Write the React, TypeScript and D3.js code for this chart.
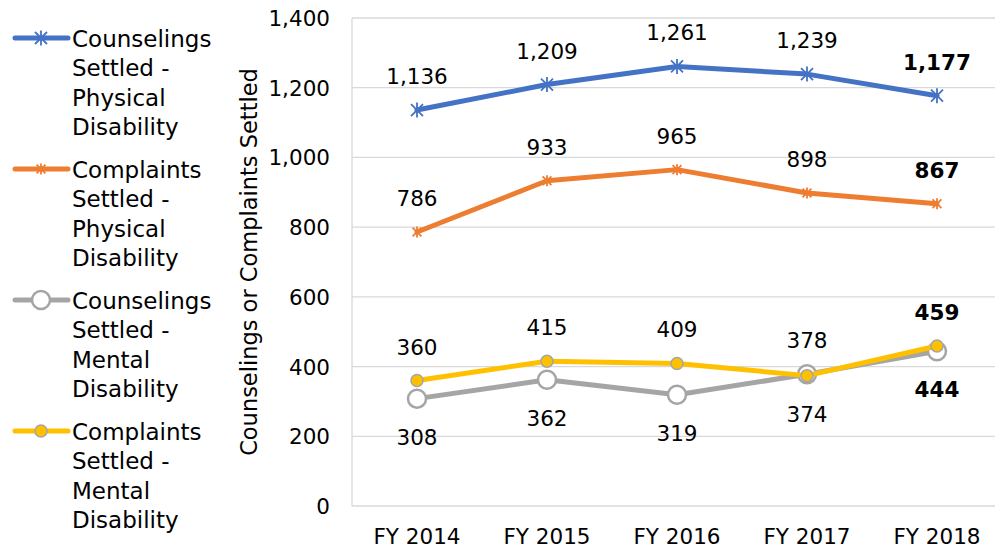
import * as d3 from 'd3';

const years = ['FY 2014', 'FY 2015', 'FY 2016', 'FY 2017', 'FY 2018'];
const counselPhysical = [1136, 1209, 1261, 1239, 1177];
const complaintPhysical = [786, 933, 965, 898, 867];
const counselMental = [308, 362, 319, 378, 444];
const complaintMental = [360, 415, 409, 374, 459];
const yTicks = [0, 200, 400, 600, 800, 1000, 1200, 1400];

const FONT = 'DejaVu Sans, sans-serif';

type Marker = 'star' | 'starSmall' | 'ring' | 'dot';

const series: { name: string[]; values: number[]; color: string; marker: Marker }[] = [
  { name: ['Counselings', 'Settled -', 'Physical', 'Disability'], values: counselPhysical, color: '#4472C4', marker: 'star' },
  { name: ['Complaints', 'Settled -', 'Physical', 'Disability'], values: complaintPhysical, color: '#ED7D31', marker: 'starSmall' },
  { name: ['Counselings', 'Settled -', 'Mental', 'Disability'], values: counselMental, color: '#A5A5A5', marker: 'ring' },
  { name: ['Complaints', 'Settled -', 'Mental', 'Disability'], values: complaintMental, color: '#FFC000', marker: 'dot' },
];

function MarkerShape({ type, x, y, color }: { type: Marker; x: number; y: number; color: string }) {
  if (type === 'star' || type === 'starSmall') {
    const r = type === 'star' ? 7.5 : 5.5;
    const d = `M0,${-r}V${r}M${-r * 0.8},${-r * 0.8}L${r * 0.8},${r * 0.8}M${-r * 0.8},${r * 0.8}L${r * 0.8},${-r * 0.8}`;
    return <path d={d} transform={`translate(${x},${y})`} stroke={color} strokeWidth={1.8} fill="none" />;
  }
  if (type === 'ring') {
    return <circle cx={x} cy={y} r={9} fill="#fff" stroke={color} strokeWidth={2.5} />;
  }
  return <circle cx={x} cy={y} r={6} fill={color} stroke="#A5A5A5" strokeWidth={1.5} />;
}

export default function App() {
  const width = 995;
  const height = 550;
  const x = d3.scaleBand().domain(years).range([352, 1002]);
  const y = d3.scaleLinear().domain([0, 1400]).range([506, 18]);
  const cx = (d: string) => (x(d) ?? 0) + x.bandwidth() / 2;
  const line = d3.line<number>().x((_, i) => cx(years[i])).y(v => y(v));

  // label above or below the marker
  const above = (si: number, i: number) => {
    if (si === 2) return counselMental[i] > complaintMental[i];
    if (si === 3) return complaintMental[i] >= counselMental[i];
    return true;
  };

  return (
    <svg width={width} height={height} style={{ position: 'absolute', left: 0, top: 0 }} fontFamily={FONT}>
      <rect width={width} height={height} fill="#fff" />
      {yTicks.map(t => (
        <g key={t}>
          {t > 0 && <line x1={352} x2={width} y1={y(t)} y2={y(t)} stroke="#D9D9D9" strokeWidth={1.3} />}
          <text x={330} y={y(t) + 8} textAnchor="end" fontSize={21.5} fill="#000">
            {d3.format(',')(t)}
          </text>
        </g>
      ))}
      <line x1={352} x2={width} y1={y(0)} y2={y(0)} stroke="#D9D9D9" strokeWidth={1.3} />
      <line x1={352} x2={352} y1={y(1400)} y2={y(0)} stroke="#D9D9D9" strokeWidth={1.3} />
      <text transform={`translate(257,${262}) rotate(-90)`} textAnchor="middle" fontSize={22.5} fill="#000">
        Counselings or Complaints Settled
      </text>
      {years.map(yr => (
        <text key={yr} x={cx(yr)} y={544} textAnchor="middle" fontSize={21.5} fill="#000">
          {yr}
        </text>
      ))}
      {series.map((s, si) => (
        <g key={si}>
          <path d={line(s.values) ?? ''} fill="none" stroke={s.color} strokeWidth={5} strokeLinejoin="round" strokeLinecap="round" />
          {s.values.map((v, i) => (
            <MarkerShape key={i} type={s.marker} x={cx(years[i])} y={y(v)} color={s.color} />
          ))}
        </g>
      ))}
      {series.map((s, si) =>
        s.values.map((v, i) => {
          const up = above(si, i);
          return (
            <text
              key={`${si}-${i}`}
              x={cx(years[i])}
              y={y(v) + (up ? -26 : 46)}
              textAnchor="middle"
              fontSize={21.5}
              fontWeight={i === years.length - 1 ? 'bold' : 'normal'}
              fill="#000"
            >
              {d3.format(',')(v)}
            </text>
          );
        })
      )}
      {series.map((s, si) => {
        const top = 38 + si * 131;
        return (
          <g key={si}>
            <line x1={15} x2={68} y1={top} y2={top} stroke={s.color} strokeWidth={5} strokeLinecap="round" />
            <MarkerShape type={s.marker} x={41} y={top} color={s.color} />
            {s.name.map((n, k) => (
              <text key={k} x={72} y={top + 8.5 + k * 29.5} fontSize={23} fill="#000">
                {n}
              </text>
            ))}
          </g>
        );
      })}
    </svg>
  );
}
